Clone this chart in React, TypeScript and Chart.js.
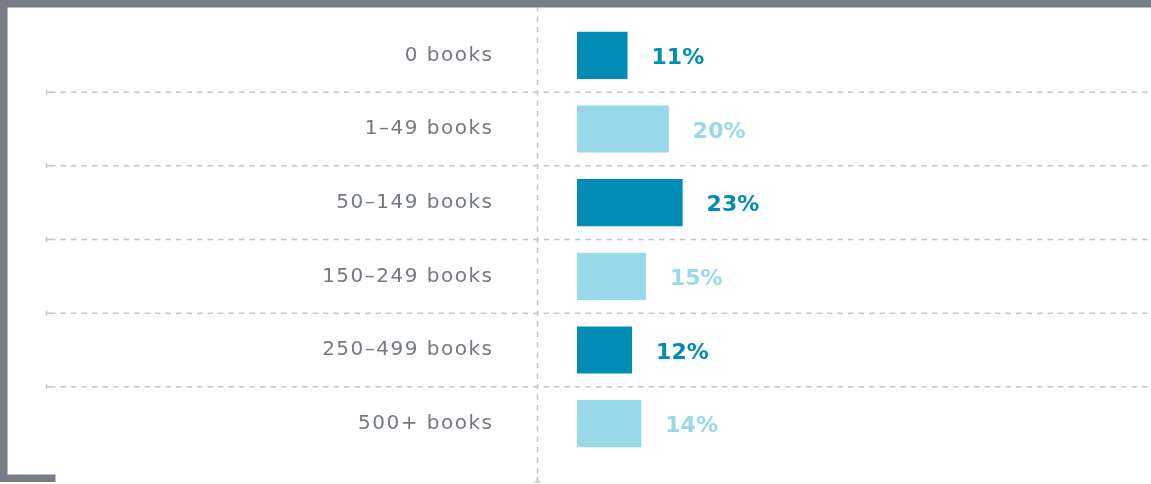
import React, { useEffect, useRef } from 'react';
import { Chart, registerables } from 'chart.js';

Chart.register(...registerables);

const categories = ['0 books', '1–49 books', '50–149 books', '150–249 books', '250–499 books', '500+ books'];
const shares = [11, 20, 23, 15, 12, 14];
const valueLabels = ['11%', '20%', '23%', '15%', '12%', '14%'];

const DARK = '#008cb4';
const LIGHT = '#97d8e9';
const FRAME = '#767d87';
const GRID = '#c6c6c6';
const LABEL = '#737a83';

const W = 1151;
const H = 484;

const decor = {
  id: 'decor',
  beforeDraw(chart: any) {
    const ctx = chart.ctx as CanvasRenderingContext2D;
    const y = chart.scales.y;
    ctx.save();
    ctx.strokeStyle = GRID;
    ctx.lineWidth = 1.5;
    // horizontal separators between categories
    for (let i = 1; i < categories.length; i++) {
      const py = (y.getPixelForValue(i - 1) + y.getPixelForValue(i)) / 2;
      ctx.setLineDash([5.5, 5]);
      ctx.beginPath();
      ctx.moveTo(50, py);
      ctx.lineTo(chart.width, py);
      ctx.stroke();
      ctx.setLineDash([]);
      ctx.beginPath();
      ctx.moveTo(46.5, py - 2.5);
      ctx.lineTo(46.5, py + 2.5);
      ctx.moveTo(46.5, py);
      ctx.lineTo(51, py);
      ctx.stroke();
    }
    // vertical separator
    ctx.setLineDash([5.5, 5]);
    ctx.beginPath();
    ctx.moveTo(537.5, 6);
    ctx.lineTo(537.5, 481);
    ctx.stroke();
    ctx.setLineDash([]);
    ctx.beginPath();
    ctx.moveTo(534.5, 482);
    ctx.lineTo(540.5, 482);
    ctx.moveTo(537.5, 477);
    ctx.lineTo(537.5, 482);
    ctx.stroke();
    // frame
    ctx.fillStyle = FRAME;
    ctx.fillRect(0, 0, chart.width, 7.5);
    ctx.fillRect(0, 0, 7.5, 482);
    ctx.fillRect(0, 474.5, 55.5, 7.5);
    ctx.restore();
    (ctx as any).letterSpacing = '1.5px';
  },
  beforeDatasetsDraw(chart: any) {
    (chart.ctx as any).letterSpacing = '0px';
  },
  afterDatasetsDraw(chart: any) {
    const ctx = chart.ctx as CanvasRenderingContext2D;
    const meta = chart.getDatasetMeta(0);
    ctx.save();
    (ctx as any).letterSpacing = '0px';
    ctx.font = 'bold 22px "DejaVu Sans"';
    ctx.textAlign = 'left';
    ctx.textBaseline = 'middle';
    meta.data.forEach((bar: any, i: number) => {
      ctx.fillStyle = i % 2 === 0 ? DARK : LIGHT;
      ctx.fillText(valueLabels[i], bar.x + 24, bar.y + 3);
    });
    ctx.restore();
  },
  afterDraw(chart: any) {
    (chart.ctx as any).letterSpacing = '0px';
  },
};

export default function App() {
  const ref = useRef<HTMLCanvasElement | null>(null);

  useEffect(() => {
    if (!ref.current) return;
    const chart = new Chart(ref.current, {
      type: 'bar',
      data: {
        labels: categories,
        datasets: [
          {
            data: shares,
            backgroundColor: shares.map((_, i) => (i % 2 === 0 ? DARK : LIGHT)),
            borderWidth: 0,
            barPercentage: 0.64,
            categoryPercentage: 1,
          },
        ],
      },
      options: {
        indexAxis: 'y',
        responsive: false,
        animation: false,
        devicePixelRatio: 1,
        layout: { padding: { top: 18.5, bottom: 23.5, left: 0, right: 0 } },
        plugins: {
          legend: { display: false },
          tooltip: { enabled: false },
        },
        scales: {
          x: { display: false, min: 0, max: 125 },
          y: {
            grid: { display: false, drawTicks: false },
            border: { display: false },
            ticks: {
              color: LABEL,
              padding: 83.5,
              font: { family: '"DejaVu Sans"', size: 20, weight: 'normal' },
            },
            afterFit: (scale: any) => {
              scale.width = 577;
              scale.paddingTop = 0;
              scale.paddingBottom = 0;
            },
          },
        },
      },
      plugins: [decor],
    });
    return () => chart.destroy();
  }, []);

  return (
    <div style={{ position: 'fixed', left: 0, top: 0, width: W, height: H, background: '#fff' }}>
      <canvas ref={ref} width={W} height={H} style={{ display: 'block' }} />
    </div>
  );
}
